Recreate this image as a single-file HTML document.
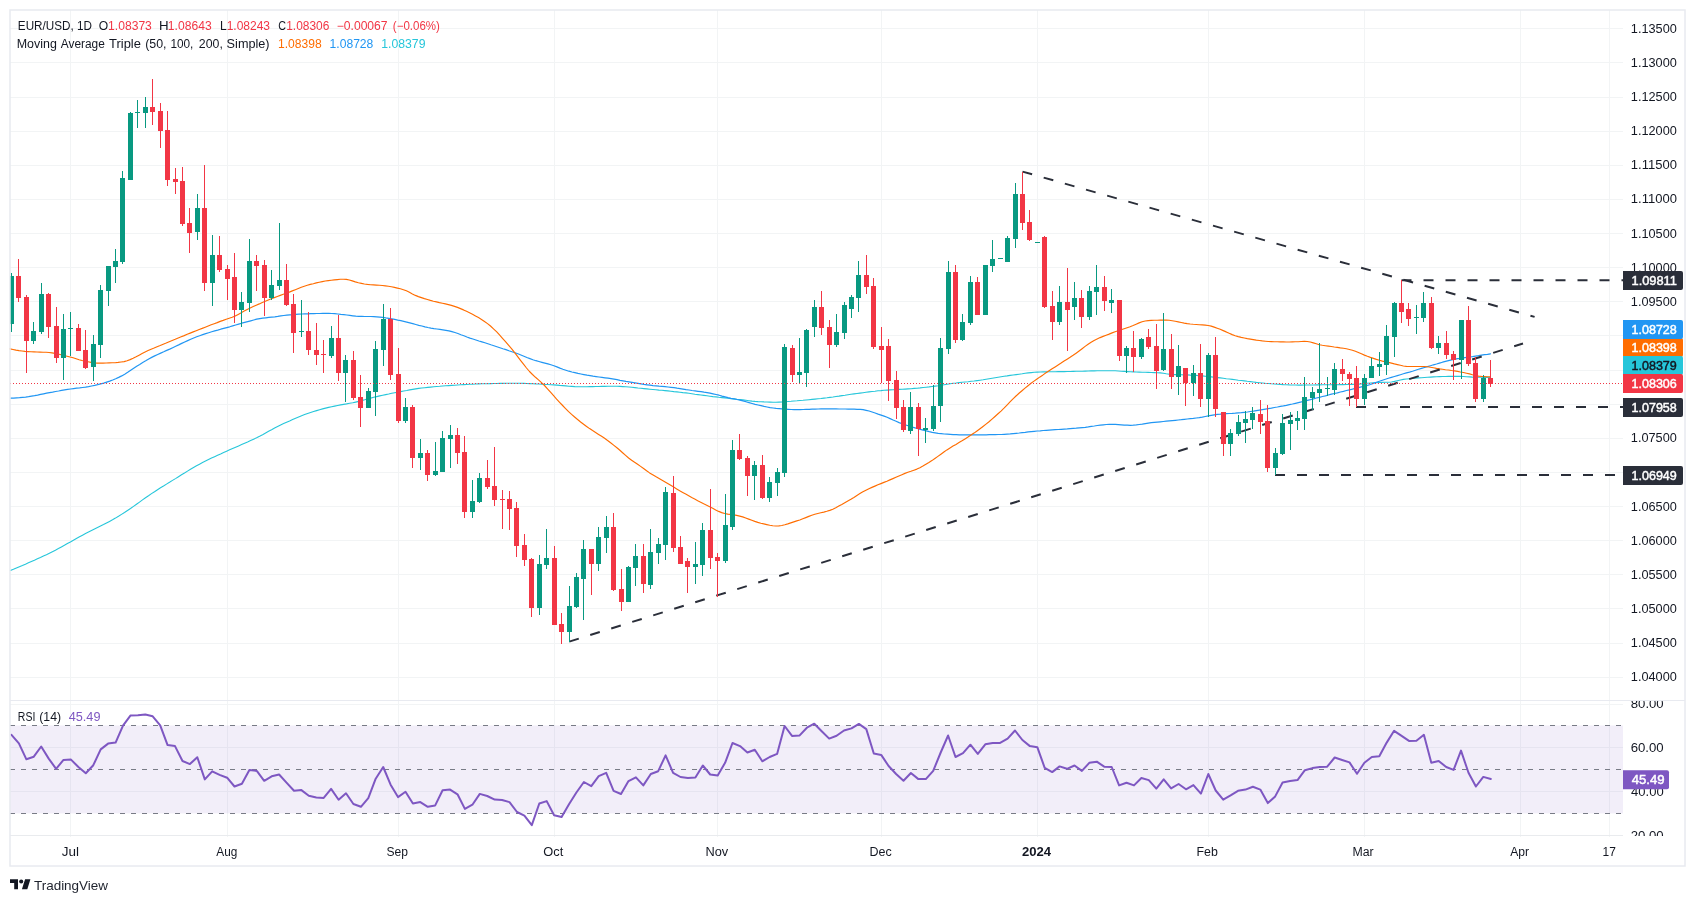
<!DOCTYPE html>
<html><head><meta charset="utf-8"><title>EUR/USD chart</title>
<style>html,body{margin:0;padding:0;background:#fff;}body{width:1695px;height:903px;overflow:hidden;font-family:"Liberation Sans",sans-serif;}</style>
</head><body>
<svg width="1695" height="903" viewBox="0 0 1695 903" style="display:block;will-change:transform;transform:translateZ(0)">
<rect width="1695" height="903" fill="#fff"/>
<path d="M70.5 10V837M227.5 10V837M398.5 10V837M554.5 10V837M717.5 10V837M881.5 10V837M1037.5 10V837M1208.5 10V837M1364.5 10V837M1520.5 10V837M1609.5 10V837M10 28.5H1623M10 62.5H1623M10 97.5H1623M10 131.5H1623M10 165.5H1623M10 199.5H1623M10 233.5H1623M10 267.5H1623M10 301.5H1623M10 335.5H1623M10 370.5H1623M10 404.5H1623M10 438.5H1623M10 472.5H1623M10 506.5H1623M10 540.5H1623M10 574.5H1623M10 608.5H1623M10 643.5H1623M10 677.5H1623M10 704.5H1623M10 747.5H1623M10 791.5H1623" stroke="#f2f4f5" stroke-width="1" fill="none" shape-rendering="crispEdges"/>
<rect x="10" y="725.5" width="1613" height="87.9" fill="#7e57c2" fill-opacity="0.1"/>
<path d="M10 725.5H1623" stroke="#787b86" stroke-width="1" stroke-dasharray="5 6" fill="none" shape-rendering="crispEdges"/>
<path d="M10 769.5H1623" stroke="#787b86" stroke-width="1" stroke-dasharray="5 6" fill="none" shape-rendering="crispEdges"/>
<path d="M10 813.5H1623" stroke="#787b86" stroke-width="1" stroke-dasharray="5 6" fill="none" shape-rendering="crispEdges"/>
<path d="M10.4 570.5 L13.4 569.3 L16.4 568.0 L19.4 566.7 L22.4 565.5 L25.4 564.2 L28.4 562.8 L31.4 561.5 L34.4 560.2 L37.4 558.8 L40.4 557.5 L43.4 556.1 L46.4 554.7 L49.4 553.2 L52.4 551.7 L55.4 550.2 L58.4 548.6 L61.4 546.9 L64.4 545.3 L67.4 543.5 L70.4 541.9 L73.4 540.2 L76.4 538.5 L79.5 536.8 L82.5 535.2 L85.5 533.6 L88.5 532.1 L91.5 530.6 L94.5 529.1 L97.5 527.6 L100.5 526.1 L103.5 524.6 L106.5 523.0 L109.5 521.4 L112.5 519.8 L115.5 518.1 L118.5 516.3 L121.5 514.4 L124.5 512.5 L127.5 510.5 L130.5 508.5 L133.5 506.4 L136.5 504.3 L139.5 502.1 L142.5 499.9 L145.5 497.7 L148.5 495.7 L151.5 493.6 L154.5 491.7 L157.5 489.7 L160.5 487.8 L163.5 486.0 L166.5 484.1 L169.5 482.3 L172.5 480.4 L175.5 478.6 L178.5 476.7 L181.5 474.8 L184.5 473.0 L187.5 471.1 L190.5 469.3 L193.5 467.5 L196.5 465.8 L199.5 464.2 L202.5 462.6 L205.5 461.1 L208.5 459.6 L211.5 458.1 L214.6 456.7 L217.6 455.3 L220.6 454.0 L223.6 452.6 L226.6 451.2 L229.6 449.8 L232.6 448.5 L235.6 447.2 L238.6 445.9 L241.6 444.6 L244.6 443.3 L247.6 442.0 L250.6 440.6 L253.6 439.2 L256.6 437.8 L259.6 436.3 L262.6 434.7 L265.6 433.0 L268.6 431.3 L271.6 429.7 L274.6 428.0 L277.6 426.5 L280.6 425.0 L283.6 423.6 L286.6 422.2 L289.6 420.9 L292.6 419.5 L295.6 418.2 L298.6 417.0 L301.6 415.8 L304.6 414.6 L307.6 413.5 L310.6 412.5 L313.6 411.5 L316.6 410.6 L319.6 409.7 L322.6 408.9 L325.6 408.1 L328.6 407.4 L331.6 406.7 L334.6 406.1 L337.6 405.5 L340.6 404.9 L343.6 404.4 L346.6 403.9 L349.7 403.3 L352.7 402.8 L355.7 402.1 L358.7 401.4 L361.7 400.6 L364.7 399.8 L367.7 398.9 L370.7 398.1 L373.7 397.3 L376.7 396.6 L379.7 395.9 L382.7 395.2 L385.7 394.6 L388.7 394.0 L391.7 393.3 L394.7 392.7 L397.7 392.1 L400.7 391.6 L403.7 391.0 L406.7 390.5 L409.7 389.9 L412.7 389.4 L415.7 388.9 L418.7 388.4 L421.7 388.0 L424.7 387.7 L427.7 387.4 L430.7 387.1 L433.7 386.8 L436.7 386.5 L439.7 386.3 L442.7 386.0 L445.7 385.8 L448.7 385.6 L451.7 385.4 L454.7 385.2 L457.7 385.0 L460.7 384.8 L463.7 384.6 L466.7 384.5 L469.7 384.3 L472.7 384.2 L475.7 384.0 L478.7 383.9 L481.8 383.8 L484.8 383.7 L487.8 383.7 L490.8 383.6 L493.8 383.5 L496.8 383.5 L499.8 383.4 L502.8 383.4 L505.8 383.3 L508.8 383.3 L511.8 383.3 L514.8 383.3 L517.8 383.3 L520.8 383.3 L523.8 383.4 L526.8 383.5 L529.8 383.6 L532.8 383.7 L535.8 383.9 L538.8 384.0 L541.8 384.2 L544.8 384.4 L547.8 384.5 L550.8 384.7 L553.8 384.9 L556.8 385.1 L559.8 385.4 L562.8 385.6 L565.8 385.9 L568.8 386.2 L571.8 386.4 L574.8 386.6 L577.8 386.7 L580.8 386.7 L583.8 386.7 L586.8 386.7 L589.8 386.6 L592.8 386.6 L595.8 386.5 L598.8 386.5 L601.8 386.4 L604.8 386.4 L607.8 386.3 L610.8 386.3 L613.8 386.3 L616.9 386.3 L619.9 386.4 L622.9 386.6 L625.9 386.8 L628.9 387.0 L631.9 387.3 L634.9 387.6 L637.9 388.0 L640.9 388.3 L643.9 388.6 L646.9 388.9 L649.9 389.2 L652.9 389.5 L655.9 389.8 L658.9 390.1 L661.9 390.3 L664.9 390.6 L667.9 390.9 L670.9 391.2 L673.9 391.6 L676.9 391.9 L679.9 392.2 L682.9 392.6 L685.9 392.9 L688.9 393.3 L691.9 393.7 L694.9 394.2 L697.9 394.6 L700.9 395.0 L703.9 395.4 L706.9 395.8 L709.9 396.2 L712.9 396.6 L715.9 396.9 L718.9 397.3 L721.9 397.6 L724.9 397.9 L727.9 398.3 L730.9 398.6 L733.9 398.9 L736.9 399.3 L739.9 399.6 L742.9 399.9 L745.9 400.3 L748.9 400.7 L752.0 401.1 L755.0 401.4 L758.0 401.6 L761.0 401.7 L764.0 401.9 L767.0 402.0 L770.0 402.1 L773.0 402.2 L776.0 402.2 L779.0 402.1 L782.0 402.0 L785.0 401.8 L788.0 401.5 L791.0 401.3 L794.0 401.0 L797.0 400.8 L800.0 400.5 L803.0 400.3 L806.0 400.0 L809.0 399.7 L812.0 399.4 L815.0 399.1 L818.0 398.8 L821.0 398.5 L824.0 398.1 L827.0 397.8 L830.0 397.4 L833.0 397.0 L836.0 396.5 L839.0 396.1 L842.0 395.6 L845.0 395.2 L848.0 394.7 L851.0 394.3 L854.0 393.9 L857.0 393.5 L860.0 393.1 L863.0 392.7 L866.0 392.3 L869.0 391.9 L872.0 391.5 L875.0 391.2 L878.0 390.8 L881.0 390.6 L884.0 390.3 L887.1 390.1 L890.1 389.9 L893.1 389.8 L896.1 389.6 L899.1 389.4 L902.1 389.3 L905.1 389.1 L908.1 388.9 L911.1 388.7 L914.1 388.4 L917.1 388.2 L920.1 387.9 L923.1 387.5 L926.1 387.2 L929.1 386.9 L932.1 386.5 L935.1 386.1 L938.1 385.7 L941.1 385.2 L944.1 384.7 L947.1 384.2 L950.1 383.7 L953.1 383.3 L956.1 383.0 L959.1 382.6 L962.1 382.3 L965.1 382.0 L968.1 381.7 L971.1 381.3 L974.1 381.0 L977.1 380.6 L980.1 380.2 L983.1 379.8 L986.1 379.3 L989.1 378.8 L992.1 378.3 L995.1 377.8 L998.1 377.3 L1001.1 376.8 L1004.1 376.3 L1007.1 375.9 L1010.1 375.4 L1013.1 375.0 L1016.1 374.6 L1019.1 374.2 L1022.2 373.8 L1025.2 373.3 L1028.2 372.9 L1031.2 372.6 L1034.2 372.3 L1037.2 372.1 L1040.2 372.0 L1043.2 371.9 L1046.2 371.9 L1049.2 371.8 L1052.2 371.7 L1055.2 371.7 L1058.2 371.6 L1061.2 371.6 L1064.2 371.6 L1067.2 371.5 L1070.2 371.5 L1073.2 371.4 L1076.2 371.3 L1079.2 371.3 L1082.2 371.2 L1085.2 371.1 L1088.2 371.0 L1091.2 370.9 L1094.2 370.9 L1097.2 370.8 L1100.2 370.7 L1103.2 370.7 L1106.2 370.7 L1109.2 370.7 L1112.2 370.7 L1115.2 370.8 L1118.2 371.0 L1121.2 371.2 L1124.2 371.4 L1127.2 371.6 L1130.2 371.8 L1133.2 371.9 L1136.2 372.0 L1139.2 372.1 L1142.2 372.2 L1145.2 372.3 L1148.2 372.4 L1151.2 372.5 L1154.3 372.6 L1157.3 372.7 L1160.3 372.9 L1163.3 373.3 L1166.3 373.8 L1169.3 374.2 L1172.3 374.5 L1175.3 374.6 L1178.3 374.7 L1181.3 374.8 L1184.3 374.9 L1187.3 374.9 L1190.3 375.1 L1193.3 375.2 L1196.3 375.4 L1199.3 375.7 L1202.3 375.9 L1205.3 376.2 L1208.3 376.6 L1211.3 376.9 L1214.3 377.3 L1217.3 377.6 L1220.3 377.9 L1223.3 378.3 L1226.3 378.7 L1229.3 379.0 L1232.3 379.4 L1235.3 379.8 L1238.3 380.2 L1241.3 380.5 L1244.3 380.9 L1247.3 381.3 L1250.3 381.6 L1253.3 382.0 L1256.3 382.4 L1259.3 382.7 L1262.3 383.0 L1265.3 383.3 L1268.3 383.5 L1271.3 383.8 L1274.3 384.0 L1277.3 384.2 L1280.3 384.4 L1283.3 384.6 L1286.3 384.7 L1289.4 384.9 L1292.4 385.0 L1295.4 385.0 L1298.4 385.1 L1301.4 385.1 L1304.4 385.0 L1307.4 385.0 L1310.4 385.0 L1313.4 385.0 L1316.4 384.9 L1319.4 384.9 L1322.4 384.8 L1325.4 384.8 L1328.4 384.8 L1331.4 384.7 L1334.4 384.7 L1337.4 384.7 L1340.4 384.6 L1343.4 384.6 L1346.4 384.5 L1349.4 384.5 L1352.4 384.4 L1355.4 384.3 L1358.4 384.1 L1361.4 383.9 L1364.4 383.6 L1367.4 383.3 L1370.4 383.0 L1373.4 382.8 L1376.4 382.6 L1379.4 382.5 L1382.4 382.4 L1385.4 382.3 L1388.4 382.2 L1391.4 382.0 L1394.4 381.4 L1397.4 380.7 L1400.4 380.0 L1403.4 379.4 L1406.4 379.0 L1409.4 378.7 L1412.4 378.4 L1415.4 378.1 L1418.4 377.9 L1421.4 377.7 L1424.5 377.5 L1427.5 377.3 L1430.5 377.1 L1433.5 376.9 L1436.5 376.7 L1439.5 376.6 L1442.5 376.5 L1445.5 376.5 L1448.5 376.4 L1451.5 376.4 L1454.5 376.4 L1457.5 376.4 L1460.5 376.4 L1463.5 376.5 L1466.5 376.7 L1469.5 376.9 L1472.5 377.1 L1475.5 377.2 L1478.5 377.3 L1481.5 377.3 L1484.5 377.4 L1487.5 377.4 L1490.5 377.4" stroke="#26c6da" stroke-width="1.1" fill="none" stroke-linejoin="round" stroke-linecap="round"/>
<path d="M10.6 398.2 L13.6 398.1 L16.6 397.9 L19.6 397.7 L22.6 397.4 L25.6 397.1 L28.6 396.7 L31.6 396.2 L34.6 395.7 L37.6 395.1 L40.6 394.4 L43.6 393.8 L46.6 393.2 L49.6 392.6 L52.6 392.1 L55.6 391.5 L58.6 391.0 L61.6 390.4 L64.6 389.9 L67.6 389.4 L70.6 389.0 L73.6 388.6 L76.6 388.2 L79.6 387.9 L82.6 387.5 L85.6 387.1 L88.6 386.6 L91.6 386.0 L94.7 385.4 L97.7 384.7 L100.7 383.9 L103.7 383.1 L106.7 382.1 L109.7 381.1 L112.7 380.0 L115.7 378.8 L118.7 377.4 L121.7 375.9 L124.7 374.2 L127.7 372.3 L130.7 370.2 L133.7 368.2 L136.7 366.2 L139.7 364.4 L142.7 362.5 L145.7 360.8 L148.7 359.0 L151.7 357.4 L154.7 355.9 L157.7 354.5 L160.7 353.1 L163.7 351.8 L166.7 350.4 L169.7 349.1 L172.7 347.7 L175.7 346.3 L178.7 344.9 L181.7 343.4 L184.7 342.0 L187.7 340.6 L190.7 339.3 L193.7 338.0 L196.7 336.8 L199.7 335.7 L202.7 334.6 L205.7 333.6 L208.7 332.7 L211.7 331.8 L214.7 330.9 L217.7 330.1 L220.7 329.2 L223.7 328.4 L226.7 327.6 L229.7 326.8 L232.7 325.9 L235.7 325.0 L238.7 324.1 L241.7 323.2 L244.7 322.4 L247.7 321.6 L250.7 320.8 L253.7 320.0 L256.7 319.2 L259.8 318.6 L262.8 318.2 L265.8 317.8 L268.8 317.4 L271.8 317.1 L274.8 316.8 L277.8 316.4 L280.8 315.9 L283.8 315.5 L286.8 315.1 L289.8 314.8 L292.8 314.6 L295.8 314.3 L298.8 314.1 L301.8 314.0 L304.8 313.9 L307.8 313.8 L310.8 313.7 L313.8 313.6 L316.8 313.5 L319.8 313.5 L322.8 313.4 L325.8 313.4 L328.8 313.4 L331.8 313.5 L334.8 313.7 L337.8 314.0 L340.8 314.4 L343.8 314.7 L346.8 315.0 L349.8 315.4 L352.8 315.8 L355.8 316.2 L358.8 316.4 L361.8 316.4 L364.8 316.5 L367.8 316.5 L370.8 316.5 L373.8 316.6 L376.8 316.8 L379.8 317.1 L382.8 317.4 L385.8 317.9 L388.8 318.3 L391.8 318.8 L394.8 319.4 L397.8 320.1 L400.8 320.7 L403.8 321.4 L406.8 322.1 L409.8 322.9 L412.8 323.7 L415.8 324.5 L418.8 325.3 L421.9 326.0 L424.9 326.8 L427.9 327.5 L430.9 328.1 L433.9 328.6 L436.9 329.0 L439.9 329.4 L442.9 329.8 L445.9 330.3 L448.9 330.9 L451.9 331.6 L454.9 332.5 L457.9 333.5 L460.9 334.7 L463.9 335.8 L466.9 337.0 L469.9 338.1 L472.9 339.0 L475.9 340.0 L478.9 341.0 L481.9 341.9 L484.9 342.8 L487.9 343.8 L490.9 344.8 L493.9 345.7 L496.9 346.7 L499.9 347.7 L502.9 348.7 L505.9 349.6 L508.9 350.7 L511.9 351.7 L514.9 352.7 L517.9 353.8 L520.9 355.0 L523.9 356.2 L526.9 357.5 L529.9 358.6 L532.9 359.7 L535.9 360.7 L538.9 361.5 L541.9 362.3 L544.9 363.1 L547.9 363.9 L550.9 364.8 L553.9 365.8 L556.9 366.9 L559.9 368.1 L562.9 369.2 L565.9 370.2 L568.9 371.2 L571.9 372.0 L574.9 372.7 L577.9 373.4 L580.9 374.0 L583.9 374.6 L587.0 375.2 L590.0 375.7 L593.0 376.2 L596.0 376.6 L599.0 377.0 L602.0 377.4 L605.0 377.8 L608.0 378.2 L611.0 378.7 L614.0 379.2 L617.0 379.7 L620.0 380.3 L623.0 380.8 L626.0 381.4 L629.0 381.9 L632.0 382.4 L635.0 382.9 L638.0 383.4 L641.0 383.9 L644.0 384.4 L647.0 384.8 L650.0 385.2 L653.0 385.6 L656.0 385.9 L659.0 386.2 L662.0 386.4 L665.0 386.7 L668.0 387.0 L671.0 387.3 L674.0 387.7 L677.0 388.2 L680.0 388.6 L683.0 389.1 L686.0 389.6 L689.0 390.0 L692.0 390.5 L695.0 390.9 L698.0 391.3 L701.0 391.7 L704.0 392.2 L707.0 392.6 L710.0 393.2 L713.0 393.8 L716.0 394.5 L719.0 395.2 L722.0 396.1 L725.0 396.9 L728.0 397.7 L731.0 398.4 L734.0 398.9 L737.0 399.5 L740.0 400.1 L743.0 400.9 L746.0 401.7 L749.0 402.6 L752.1 403.5 L755.1 404.3 L758.1 405.0 L761.1 405.7 L764.1 406.4 L767.1 407.0 L770.1 407.6 L773.1 408.0 L776.1 408.4 L779.1 408.6 L782.1 408.9 L785.1 409.1 L788.1 409.3 L791.1 409.5 L794.1 409.6 L797.1 409.6 L800.1 409.6 L803.1 409.5 L806.1 409.4 L809.1 409.3 L812.1 409.2 L815.1 409.1 L818.1 409.0 L821.1 408.9 L824.1 408.9 L827.1 408.9 L830.1 408.9 L833.1 408.9 L836.1 408.9 L839.1 409.0 L842.1 409.0 L845.1 409.0 L848.1 409.1 L851.1 409.1 L854.1 409.2 L857.1 409.3 L860.1 409.3 L863.1 409.7 L866.1 410.3 L869.1 411.0 L872.1 412.0 L875.1 413.0 L878.1 414.1 L881.1 415.1 L884.1 416.1 L887.1 417.3 L890.1 418.6 L893.1 420.0 L896.1 421.3 L899.1 422.6 L902.1 423.7 L905.1 424.7 L908.1 425.8 L911.1 426.7 L914.1 427.6 L917.2 428.5 L920.2 429.3 L923.2 430.1 L926.2 430.9 L929.2 431.7 L932.2 432.4 L935.2 432.9 L938.2 433.4 L941.2 433.7 L944.2 434.0 L947.2 434.2 L950.2 434.4 L953.2 434.6 L956.2 434.7 L959.2 434.8 L962.2 434.8 L965.2 434.8 L968.2 434.8 L971.2 434.8 L974.2 434.8 L977.2 434.8 L980.2 434.8 L983.2 434.8 L986.2 434.8 L989.2 434.7 L992.2 434.7 L995.2 434.6 L998.2 434.5 L1001.2 434.5 L1004.2 434.3 L1007.2 434.1 L1010.2 433.9 L1013.2 433.6 L1016.2 433.3 L1019.2 433.0 L1022.2 432.6 L1025.2 432.3 L1028.2 431.9 L1031.2 431.6 L1034.2 431.3 L1037.2 431.0 L1040.2 430.8 L1043.2 430.5 L1046.2 430.3 L1049.2 430.1 L1052.2 429.9 L1055.2 429.7 L1058.2 429.5 L1061.2 429.3 L1064.2 429.1 L1067.2 428.9 L1070.2 428.6 L1073.2 428.4 L1076.2 428.2 L1079.2 427.9 L1082.3 427.6 L1085.3 427.3 L1088.3 426.9 L1091.3 426.4 L1094.3 426.0 L1097.3 425.5 L1100.3 425.1 L1103.3 424.8 L1106.3 424.5 L1109.3 424.3 L1112.3 424.3 L1115.3 424.4 L1118.3 424.6 L1121.3 424.8 L1124.3 425.1 L1127.3 425.2 L1130.3 425.3 L1133.3 425.2 L1136.3 424.9 L1139.3 424.5 L1142.3 424.1 L1145.3 423.6 L1148.3 423.1 L1151.3 422.7 L1154.3 422.4 L1157.3 422.1 L1160.3 421.8 L1163.3 421.5 L1166.3 421.2 L1169.3 420.9 L1172.3 420.6 L1175.3 420.3 L1178.3 420.0 L1181.3 419.7 L1184.3 419.3 L1187.3 419.0 L1190.3 418.7 L1193.3 418.4 L1196.3 418.0 L1199.3 417.6 L1202.3 417.1 L1205.3 416.5 L1208.3 415.9 L1211.3 415.3 L1214.3 414.8 L1217.3 414.4 L1220.3 414.2 L1223.3 413.9 L1226.3 413.7 L1229.3 413.5 L1232.3 413.4 L1235.3 413.2 L1238.3 412.9 L1241.3 412.7 L1244.4 412.3 L1247.4 412.0 L1250.4 411.5 L1253.4 411.1 L1256.4 410.6 L1259.4 410.1 L1262.4 409.6 L1265.4 409.1 L1268.4 408.6 L1271.4 408.1 L1274.4 407.5 L1277.4 407.0 L1280.4 406.4 L1283.4 405.9 L1286.4 405.3 L1289.4 404.6 L1292.4 404.0 L1295.4 403.3 L1298.4 402.6 L1301.4 401.9 L1304.4 401.1 L1307.4 400.3 L1310.4 399.6 L1313.4 398.8 L1316.4 398.0 L1319.4 397.3 L1322.4 396.5 L1325.4 395.8 L1328.4 395.0 L1331.4 394.2 L1334.4 393.5 L1337.4 392.8 L1340.4 392.0 L1343.4 391.3 L1346.4 390.5 L1349.4 389.8 L1352.4 389.1 L1355.4 388.3 L1358.4 387.6 L1361.4 386.9 L1364.4 386.2 L1367.4 385.4 L1370.4 384.5 L1373.4 383.4 L1376.4 382.3 L1379.4 381.2 L1382.4 380.2 L1385.4 379.2 L1388.4 378.3 L1391.4 377.4 L1394.4 376.5 L1397.4 375.6 L1400.4 374.7 L1403.4 373.8 L1406.4 372.9 L1409.5 372.1 L1412.5 371.2 L1415.5 370.2 L1418.5 369.3 L1421.5 368.4 L1424.5 367.5 L1427.5 366.6 L1430.5 365.7 L1433.5 364.8 L1436.5 364.0 L1439.5 363.1 L1442.5 362.2 L1445.5 361.4 L1448.5 360.6 L1451.5 359.9 L1454.5 359.3 L1457.5 358.7 L1460.5 358.3 L1463.5 357.8 L1466.5 357.4 L1469.5 357.0 L1472.5 356.6 L1475.5 356.1 L1478.5 355.7 L1481.5 355.2 L1484.5 354.7 L1487.5 354.3 L1490.5 353.8" stroke="#2196f3" stroke-width="1.2" fill="none" stroke-linejoin="round" stroke-linecap="round"/>
<path d="M10.0 348.9 L13.0 349.5 L16.0 350.1 L19.0 350.6 L22.0 351.0 L25.0 351.4 L28.0 351.6 L31.0 351.8 L34.0 351.9 L37.0 352.0 L40.0 352.1 L43.0 352.2 L46.0 352.3 L49.0 352.5 L52.0 352.9 L55.0 353.4 L58.0 354.0 L61.1 354.7 L64.1 355.5 L67.1 356.2 L70.1 357.0 L73.1 357.8 L76.1 358.7 L79.1 359.7 L82.1 360.5 L85.1 361.2 L88.1 361.8 L91.1 362.4 L94.1 362.9 L97.1 363.1 L100.1 363.1 L103.1 363.1 L106.1 363.0 L109.1 362.9 L112.1 362.8 L115.1 362.7 L118.1 362.4 L121.1 362.0 L124.1 361.6 L127.1 360.7 L130.1 359.6 L133.1 358.3 L136.1 356.8 L139.1 355.2 L142.1 353.6 L145.1 352.0 L148.1 350.6 L151.1 349.2 L154.1 348.0 L157.1 346.7 L160.2 345.5 L163.2 344.2 L166.2 343.0 L169.2 341.7 L172.2 340.5 L175.2 339.3 L178.2 338.0 L181.2 336.8 L184.2 335.6 L187.2 334.3 L190.2 333.1 L193.2 331.9 L196.2 330.7 L199.2 329.5 L202.2 328.4 L205.2 327.2 L208.2 326.0 L211.2 324.8 L214.2 323.7 L217.2 322.6 L220.2 321.4 L223.2 320.4 L226.2 319.3 L229.2 318.3 L232.2 317.3 L235.2 316.0 L238.2 314.4 L241.2 312.8 L244.2 311.1 L247.2 309.5 L250.2 308.0 L253.2 306.6 L256.2 305.2 L259.3 303.9 L262.3 302.5 L265.3 301.3 L268.3 300.0 L271.3 298.8 L274.3 297.6 L277.3 296.5 L280.3 295.4 L283.3 294.3 L286.3 293.2 L289.3 292.1 L292.3 290.9 L295.3 289.7 L298.3 288.5 L301.3 287.3 L304.3 286.2 L307.3 285.3 L310.3 284.4 L313.3 283.7 L316.3 282.9 L319.3 282.2 L322.3 281.6 L325.3 281.0 L328.3 280.6 L331.3 280.2 L334.3 279.9 L337.3 279.6 L340.3 279.3 L343.3 279.2 L346.3 279.4 L349.3 280.0 L352.3 280.9 L355.3 281.9 L358.4 282.8 L361.4 283.4 L364.4 284.0 L367.4 284.4 L370.4 284.7 L373.4 284.9 L376.4 285.1 L379.4 285.3 L382.4 285.5 L385.4 285.9 L388.4 286.3 L391.4 286.8 L394.4 287.4 L397.4 288.1 L400.4 288.8 L403.4 289.7 L406.4 290.8 L409.4 292.3 L412.4 294.0 L415.4 295.4 L418.4 296.6 L421.4 297.6 L424.4 298.6 L427.4 299.5 L430.4 300.4 L433.4 301.2 L436.4 301.9 L439.4 302.6 L442.4 303.2 L445.4 303.9 L448.4 304.6 L451.4 305.4 L454.5 306.4 L457.5 307.4 L460.5 308.6 L463.5 309.9 L466.5 311.3 L469.5 312.7 L472.5 314.3 L475.5 315.9 L478.5 317.6 L481.5 319.5 L484.5 321.5 L487.5 323.6 L490.5 326.0 L493.5 328.8 L496.5 331.7 L499.5 334.9 L502.5 338.3 L505.5 341.7 L508.5 345.2 L511.5 348.6 L514.5 352.3 L517.5 356.3 L520.5 360.3 L523.5 364.2 L526.5 368.0 L529.5 371.5 L532.5 374.5 L535.5 377.3 L538.5 379.9 L541.5 382.6 L544.5 385.5 L547.5 388.8 L550.5 392.2 L553.6 395.7 L556.6 399.1 L559.6 402.3 L562.6 405.5 L565.6 408.6 L568.6 411.6 L571.6 414.4 L574.6 417.0 L577.6 419.5 L580.6 422.0 L583.6 424.3 L586.6 426.5 L589.6 428.6 L592.6 430.6 L595.6 432.5 L598.6 434.4 L601.6 436.3 L604.6 438.3 L607.6 440.5 L610.6 442.7 L613.6 445.1 L616.6 447.5 L619.6 450.0 L622.6 452.7 L625.6 455.4 L628.6 458.0 L631.6 460.2 L634.6 462.3 L637.6 464.3 L640.6 466.4 L643.6 468.5 L646.6 470.8 L649.6 472.9 L652.7 474.8 L655.7 476.6 L658.7 478.3 L661.7 480.0 L664.7 481.7 L667.7 483.5 L670.7 485.3 L673.7 487.1 L676.7 488.9 L679.7 490.7 L682.7 492.4 L685.7 494.1 L688.7 495.8 L691.7 497.5 L694.7 499.1 L697.7 500.7 L700.7 502.2 L703.7 503.8 L706.7 505.3 L709.7 506.8 L712.7 508.3 L715.7 509.9 L718.7 511.4 L721.7 512.6 L724.7 513.5 L727.7 514.1 L730.7 514.5 L733.7 514.9 L736.7 515.4 L739.7 516.1 L742.7 516.9 L745.7 518.0 L748.7 519.1 L751.8 520.3 L754.8 521.4 L757.8 522.4 L760.8 523.2 L763.8 523.9 L766.8 524.6 L769.8 525.3 L772.8 525.8 L775.8 526.0 L778.8 525.9 L781.8 525.5 L784.8 524.8 L787.8 523.9 L790.8 522.9 L793.8 521.9 L796.8 520.9 L799.8 520.0 L802.8 518.8 L805.8 517.6 L808.8 516.4 L811.8 515.3 L814.8 514.3 L817.8 513.5 L820.8 512.8 L823.8 512.1 L826.8 511.3 L829.8 510.4 L832.8 509.2 L835.8 507.7 L838.8 506.1 L841.8 504.5 L844.8 502.8 L847.8 501.1 L850.9 499.3 L853.9 497.4 L856.9 495.4 L859.9 493.6 L862.9 491.8 L865.9 490.2 L868.9 488.7 L871.9 487.4 L874.9 486.1 L877.9 484.8 L880.9 483.6 L883.9 482.4 L886.9 481.2 L889.9 479.9 L892.9 478.6 L895.9 477.3 L898.9 476.0 L901.9 474.7 L904.9 473.4 L907.9 472.3 L910.9 471.3 L913.9 470.2 L916.9 469.1 L919.9 467.7 L922.9 466.1 L925.9 464.3 L928.9 462.5 L931.9 460.6 L934.9 458.5 L937.9 456.4 L940.9 454.2 L943.9 452.0 L946.9 449.9 L950.0 447.9 L953.0 446.1 L956.0 444.4 L959.0 442.6 L962.0 440.8 L965.0 438.9 L968.0 437.1 L971.0 435.1 L974.0 433.1 L977.0 431.0 L980.0 428.8 L983.0 426.5 L986.0 424.1 L989.0 421.7 L992.0 419.1 L995.0 416.5 L998.0 413.8 L1001.0 411.1 L1004.0 408.2 L1007.0 405.1 L1010.0 401.9 L1013.0 398.8 L1016.0 396.0 L1019.0 393.3 L1022.0 390.7 L1025.0 388.1 L1028.0 385.7 L1031.0 383.3 L1034.0 381.1 L1037.0 379.0 L1040.0 376.9 L1043.0 374.9 L1046.0 372.8 L1049.1 370.8 L1052.1 368.8 L1055.1 366.9 L1058.1 365.0 L1061.1 363.1 L1064.1 361.1 L1067.1 359.2 L1070.1 357.3 L1073.1 355.3 L1076.1 353.2 L1079.1 351.0 L1082.1 348.7 L1085.1 346.4 L1088.1 344.3 L1091.1 342.3 L1094.1 340.5 L1097.1 339.0 L1100.1 337.6 L1103.1 336.4 L1106.1 335.2 L1109.1 334.1 L1112.1 332.9 L1115.1 331.8 L1118.1 330.8 L1121.1 329.7 L1124.1 328.7 L1127.1 327.7 L1130.1 326.7 L1133.1 325.5 L1136.1 324.2 L1139.1 322.9 L1142.1 321.8 L1145.2 321.0 L1148.2 320.6 L1151.2 320.4 L1154.2 320.3 L1157.2 320.2 L1160.2 320.1 L1163.2 320.1 L1166.2 320.0 L1169.2 320.3 L1172.2 320.7 L1175.2 321.3 L1178.2 321.9 L1181.2 322.5 L1184.2 323.1 L1187.2 323.6 L1190.2 324.0 L1193.2 324.3 L1196.2 324.5 L1199.2 324.7 L1202.2 324.9 L1205.2 325.1 L1208.2 325.5 L1211.2 326.1 L1214.2 327.1 L1217.2 328.2 L1220.2 329.3 L1223.2 330.6 L1226.2 331.9 L1229.2 333.3 L1232.2 334.6 L1235.2 335.7 L1238.2 336.6 L1241.2 337.4 L1244.3 338.0 L1247.3 338.6 L1250.3 339.1 L1253.3 339.6 L1256.3 340.1 L1259.3 340.5 L1262.3 340.9 L1265.3 341.2 L1268.3 341.5 L1271.3 341.6 L1274.3 341.7 L1277.3 341.8 L1280.3 341.9 L1283.3 341.9 L1286.3 342.0 L1289.3 342.0 L1292.3 341.9 L1295.3 341.8 L1298.3 341.7 L1301.3 341.5 L1304.3 341.4 L1307.3 341.5 L1310.3 342.0 L1313.3 342.9 L1316.3 343.8 L1319.3 344.7 L1322.3 345.3 L1325.3 345.7 L1328.3 346.1 L1331.3 346.5 L1334.3 347.0 L1337.3 347.4 L1340.3 347.9 L1343.4 348.3 L1346.4 348.8 L1349.4 349.5 L1352.4 350.2 L1355.4 351.3 L1358.4 352.5 L1361.4 353.8 L1364.4 355.1 L1367.4 356.3 L1370.4 357.4 L1373.4 358.4 L1376.4 359.4 L1379.4 360.3 L1382.4 361.1 L1385.4 361.8 L1388.4 362.4 L1391.4 363.1 L1394.4 363.9 L1397.4 364.6 L1400.4 365.3 L1403.4 366.0 L1406.4 366.4 L1409.4 366.5 L1412.4 366.5 L1415.4 366.5 L1418.4 366.5 L1421.4 366.5 L1424.4 366.5 L1427.4 366.7 L1430.4 367.2 L1433.4 367.8 L1436.4 368.4 L1439.4 368.9 L1442.5 369.3 L1445.5 369.7 L1448.5 370.0 L1451.5 370.5 L1454.5 370.9 L1457.5 371.4 L1460.5 372.0 L1463.5 372.5 L1466.5 373.2 L1469.5 373.9 L1472.5 374.8 L1475.5 375.6 L1478.5 376.1 L1481.5 376.4 L1484.5 376.6 L1487.5 376.8 L1490.5 376.9" stroke="#ff6d00" stroke-width="1.15" fill="none" stroke-linejoin="round" stroke-linecap="round"/>
<path d="M569.23 641.6L1523 343.55" stroke="#2a2e39" stroke-width="2" stroke-dasharray="10 12" fill="none"/>
<path d="M1022.5 171.6L1534.6 316.9" stroke="#2a2e39" stroke-width="2" stroke-dasharray="10 12" fill="none"/>
<path d="M1401.5 280.3L1623 280.3" stroke="#2a2e39" stroke-width="2" stroke-dasharray="10 12" fill="none"/>
<path d="M1356 407L1623 407" stroke="#2a2e39" stroke-width="2" stroke-dasharray="10 12" fill="none"/>
<path d="M1275 475L1623 475" stroke="#2a2e39" stroke-width="2" stroke-dasharray="10 12" fill="none"/>
<path d="M11 273h1V332h-1ZM33 322h1V344h-1ZM41 283h1V334h-1ZM63 314h1V380h-1ZM70 312h1V356h-1ZM93 335h1V381h-1ZM100 285h1V358h-1ZM108 266h1V306h-1ZM115 249h1V283h-1ZM122 171h1V264h-1ZM130 112h1V180h-1ZM137 100h1V128h-1ZM145 97h1V128h-1ZM197 194h1V240h-1ZM212 235h1V306h-1ZM241 292h1V327h-1ZM249 239h1V312h-1ZM271 270h1V300h-1ZM279 223h1V290h-1ZM301 300h1V337h-1ZM331 326h1V358h-1ZM345 355h1V402h-1ZM368 388h1V408h-1ZM375 341h1V416h-1ZM383 304h1V366h-1ZM405 398h1V423h-1ZM420 439h1V470h-1ZM435 442h1V476h-1ZM442 431h1V472h-1ZM450 425h1V468h-1ZM472 480h1V518h-1ZM479 473h1V503h-1ZM539 555h1V615h-1ZM546 529h1V569h-1ZM569 586h1V642h-1ZM576 573h1V608h-1ZM583 540h1V620h-1ZM598 527h1V571h-1ZM606 516h1V553h-1ZM628 566h1V602h-1ZM635 544h1V586h-1ZM650 529h1V589h-1ZM658 538h1V564h-1ZM665 487h1V560h-1ZM695 542h1V584h-1ZM702 523h1V576h-1ZM725 494h1V563h-1ZM732 440h1V530h-1ZM754 461h1V500h-1ZM769 477h1V502h-1ZM777 468h1V496h-1ZM784 344h1V477h-1ZM799 338h1V383h-1ZM806 329h1V387h-1ZM814 300h1V337h-1ZM836 314h1V347h-1ZM844 302h1V339h-1ZM851 295h1V318h-1ZM858 261h1V312h-1ZM910 392h1V434h-1ZM925 418h1V443h-1ZM933 385h1V431h-1ZM940 338h1V422h-1ZM948 261h1V354h-1ZM962 314h1V341h-1ZM970 276h1V325h-1ZM985 265h1V315h-1ZM992 240h1V272h-1ZM1000 258h1V259h-1ZM1007 236h1V262h-1ZM1015 183h1V248h-1ZM1037 242h1V243h-1ZM1059 286h1V325h-1ZM1074 282h1V320h-1ZM1089 286h1V320h-1ZM1096 265h1V315h-1ZM1111 289h1V313h-1ZM1126 346h1V373h-1ZM1141 338h1V359h-1ZM1163 313h1V371h-1ZM1178 345h1V395h-1ZM1193 365h1V396h-1ZM1208 353h1V417h-1ZM1230 429h1V456h-1ZM1238 415h1V436h-1ZM1245 411h1V443h-1ZM1252 407h1V429h-1ZM1275 448h1V475h-1ZM1282 414h1V455h-1ZM1290 412h1V450h-1ZM1297 411h1V430h-1ZM1304 377h1V430h-1ZM1312 387h1V410h-1ZM1319 343h1V402h-1ZM1327 377h1V396h-1ZM1334 363h1V395h-1ZM1364 374h1V405h-1ZM1371 358h1V378h-1ZM1379 352h1V376h-1ZM1386 325h1V375h-1ZM1394 302h1V357h-1ZM1416 305h1V334h-1ZM1423 292h1V322h-1ZM1438 336h1V354h-1ZM1461 320h1V379h-1ZM1483 375h1V402h-1ZM10 276H14V324H10ZM31 331H36V341H31ZM39 294H44V332H39ZM61 329H66V358H61ZM68 328H73V329H68ZM91 344H96V367H91ZM98 290H103V345H98ZM106 266H111V291H106ZM113 261H118V267H113ZM120 178H125V262H120ZM128 113H133V180H128ZM135 112H140V113H135ZM143 107H148V113H143ZM195 208H200V232H195ZM210 255H215V283H210ZM239 302H244V310H239ZM247 261H252V303H247ZM269 285H274V298H269ZM277 280H282V286H277ZM299 331H304V332H299ZM329 338H334V356H329ZM343 360H348V373H343ZM366 391H371V408H366ZM373 349H378V392H373ZM381 319H386V350H381ZM403 407H408V421H403ZM418 453H423V458H418ZM433 471H438V475H433ZM440 438H445V472H440ZM448 435H453V439H448ZM470 501H475V512H470ZM477 478H482V502H477ZM537 564H542V608H537ZM544 558H549V565H544ZM567 606H572V632H567ZM574 577H579V607H574ZM581 549H586V579H581ZM596 537H601V564H596ZM604 527H609V538H604ZM626 567H631V602H626ZM633 556H638V568H633ZM648 552H653V585H648ZM656 544H661V553H656ZM663 492H668V545H663ZM693 564H698V567H693ZM700 530H705V565H700ZM723 525H728V561H723ZM730 450H735V527H730ZM752 465H757V476H752ZM767 482H772V498H767ZM775 472H780V483H775ZM782 347H787V473H782ZM797 372H802V375H797ZM804 330H809V373H804ZM812 307H817V327H812ZM834 332H839V345H834ZM842 305H847V333H842ZM849 297H854V309H849ZM856 275H861V298H856ZM908 407H913V431H908ZM923 428H928V430H923ZM931 406H936V429H931ZM938 348H943V406H938ZM946 272H951V349H946ZM960 322H965V340H960ZM968 282H973V323H968ZM983 265H988V315H983ZM990 259H995V266H990ZM998 258H1003V259H998ZM1005 238H1010V262H1005ZM1013 194H1018V239H1013ZM1035 242H1040V243H1035ZM1057 302H1062V322H1057ZM1072 298H1077V307H1072ZM1087 291H1092V317H1087ZM1094 287H1099V292H1094ZM1109 300H1114V303H1109ZM1124 348H1129V356H1124ZM1139 339H1144V357H1139ZM1161 349H1166V370H1161ZM1176 366H1181V377H1176ZM1191 373H1196V383H1191ZM1206 355H1211V399H1206ZM1228 433H1233V444H1228ZM1236 422H1241V434H1236ZM1243 419H1248V423H1243ZM1250 413H1255V420H1250ZM1273 453H1278V468H1273ZM1280 423H1285V454H1280ZM1288 420H1293V424H1288ZM1295 418H1300V421H1295ZM1302 397H1307V419H1302ZM1310 392H1315V398H1310ZM1317 389H1322V393H1317ZM1325 388H1330V389H1325ZM1332 369H1337V390H1332ZM1362 378H1367V399H1362ZM1369 366H1374V378H1369ZM1377 364H1382V367H1377ZM1384 336H1389V365H1384ZM1392 303H1397V337H1392ZM1414 317H1419V318H1414ZM1421 303H1426V318H1421ZM1436 343H1441V348H1436ZM1459 320H1464V360H1459ZM1481 378H1486V399H1481Z" fill="#089981" shape-rendering="crispEdges"/>
<path d="M18 259h1V302h-1ZM26 295h1V373h-1ZM48 293h1V338h-1ZM56 307h1V363h-1ZM78 324h1V351h-1ZM85 330h1V369h-1ZM152 79h1V125h-1ZM160 103h1V148h-1ZM167 111h1V186h-1ZM175 168h1V194h-1ZM182 167h1V226h-1ZM189 208h1V253h-1ZM204 165h1V291h-1ZM219 236h1V272h-1ZM227 265h1V300h-1ZM234 253h1V323h-1ZM256 255h1V291h-1ZM264 260h1V316h-1ZM286 264h1V306h-1ZM293 294h1V353h-1ZM308 312h1V355h-1ZM316 323h1V365h-1ZM323 340h1V373h-1ZM338 315h1V381h-1ZM353 351h1V400h-1ZM360 375h1V427h-1ZM390 308h1V380h-1ZM398 348h1V423h-1ZM412 405h1V468h-1ZM427 450h1V481h-1ZM457 428h1V464h-1ZM464 436h1V518h-1ZM487 460h1V489h-1ZM494 447h1V506h-1ZM502 490h1V529h-1ZM509 491h1V530h-1ZM516 502h1V557h-1ZM524 534h1V566h-1ZM531 558h1V617h-1ZM554 546h1V625h-1ZM561 613h1V644h-1ZM591 549h1V595h-1ZM613 513h1V591h-1ZM621 569h1V611h-1ZM643 544h1V593h-1ZM673 476h1V552h-1ZM680 536h1V564h-1ZM687 558h1V593h-1ZM710 489h1V569h-1ZM717 553h1V597h-1ZM739 434h1V460h-1ZM747 456h1V496h-1ZM762 455h1V499h-1ZM792 345h1V382h-1ZM821 291h1V335h-1ZM829 320h1V368h-1ZM866 255h1V294h-1ZM873 278h1V349h-1ZM881 327h1V383h-1ZM888 339h1V401h-1ZM896 371h1V419h-1ZM903 400h1V432h-1ZM918 403h1V456h-1ZM955 265h1V343h-1ZM977 277h1V315h-1ZM1022 172h1V230h-1ZM1029 210h1V241h-1ZM1044 236h1V308h-1ZM1052 291h1V340h-1ZM1067 268h1V351h-1ZM1081 290h1V328h-1ZM1104 276h1V311h-1ZM1119 300h1V361h-1ZM1133 331h1V372h-1ZM1148 329h1V349h-1ZM1156 324h1V389h-1ZM1171 334h1V389h-1ZM1185 368h1V406h-1ZM1200 344h1V407h-1ZM1215 337h1V417h-1ZM1223 412h1V456h-1ZM1260 400h1V434h-1ZM1267 405h1V472h-1ZM1342 359h1V381h-1ZM1349 372h1V406h-1ZM1356 366h1V407h-1ZM1401 280h1V323h-1ZM1408 303h1V326h-1ZM1431 297h1V349h-1ZM1446 331h1V359h-1ZM1453 351h1V380h-1ZM1468 306h1V366h-1ZM1475 357h1V402h-1ZM1490 360h1V387h-1ZM16 276H21V298H16ZM24 297H29V341H24ZM46 294H51V327H46ZM54 326H59V358H54ZM76 328H81V351H76ZM83 350H88V368H83ZM150 107H155V112H150ZM158 111H163V131H158ZM165 130H170V180H165ZM173 179H178V182H173ZM180 181H185V224H180ZM187 223H192V233H187ZM202 208H207V283H202ZM217 255H222V270H217ZM225 269H230V279H225ZM232 277H237V310H232ZM254 261H259V266H254ZM262 265H267V298H262ZM284 280H289V305H284ZM291 304H296V333H291ZM306 331H311V350H306ZM314 350H319V355H314ZM321 354H326V355H321ZM336 338H341V373H336ZM351 360H356V398H351ZM358 397H363V408H358ZM388 319H393V375H388ZM396 374H401V421H396ZM410 407H415V458H410ZM425 453H430V475H425ZM455 435H460V453H455ZM462 452H467V512H462ZM485 478H490V487H485ZM492 486H497V500H492ZM500 499H505V500H500ZM507 499H512V509H507ZM514 508H519V546H514ZM522 545H527V560H522ZM529 559H534V608H529ZM552 558H557V625H552ZM559 624H564V632H559ZM589 549H594V564H589ZM611 527H616V590H611ZM619 589H624V602H619ZM641 556H646V584H641ZM671 493H676V548H671ZM678 547H683V564H678ZM685 561H690V567H685ZM708 530H713V558H708ZM715 557H720V561H715ZM737 450H742V459H737ZM745 458H750V476H745ZM760 465H765V498H760ZM790 348H795V375H790ZM819 307H824V328H819ZM827 327H832V345H827ZM864 275H869V287H864ZM871 286H876V347H871ZM879 346H884V350H879ZM886 346H891V381H886ZM894 380H899V408H894ZM901 407H906V430H901ZM916 407H921V429H916ZM953 272H958V340H953ZM975 282H980V315H975ZM1020 194H1025V223H1020ZM1027 222H1032V240H1027ZM1042 237H1047V307H1042ZM1050 306H1055V322H1050ZM1065 302H1070V310H1065ZM1079 298H1084V317H1079ZM1102 287H1107V301H1102ZM1117 300H1122V356H1117ZM1131 348H1136V357H1131ZM1146 337H1151V347H1146ZM1154 346H1159V371H1154ZM1169 349H1174V377H1169ZM1183 368H1188V383H1183ZM1198 373H1203V399H1198ZM1213 355H1218V409H1213ZM1221 412H1226V444H1221ZM1258 414H1263V422H1258ZM1265 421H1270V468H1265ZM1340 369H1345V374H1340ZM1347 374H1352V379H1347ZM1354 378H1359V399H1354ZM1399 303H1404V312H1399ZM1406 309H1411V319H1406ZM1429 303H1434V348H1429ZM1444 343H1449V355H1444ZM1451 354H1456V360H1451ZM1466 320H1471V364H1466ZM1473 363H1478V399H1473ZM1488 378H1493V384H1488Z" fill="#f23645" shape-rendering="crispEdges"/>
<path d="M10 383.5H1623" stroke="#f23645" stroke-width="1" stroke-dasharray="1 2" fill="none" shape-rendering="crispEdges"/>
<path d="M11.5 734.8 L18.9 743.3 L26.4 759.3 L33.8 756.7 L41.2 746.5 L48.7 758.6 L56.1 768.8 L63.5 759.9 L71.0 759.6 L78.4 767.0 L85.8 773.3 L93.3 765.2 L100.7 749.4 L108.1 743.6 L115.6 742.6 L123.0 725.6 L130.4 715.6 L137.9 715.3 L145.3 714.5 L152.7 716.3 L160.2 725.3 L167.6 745.1 L175.0 746.1 L182.5 761.0 L189.9 764.1 L197.3 757.2 L204.8 779.4 L212.2 771.3 L219.6 774.9 L227.1 777.7 L234.5 786.5 L241.9 783.7 L249.4 769.9 L256.8 770.9 L264.2 780.8 L271.7 776.3 L279.1 774.5 L286.5 782.7 L294.0 790.8 L301.4 790.1 L308.8 795.7 L316.3 797.4 L323.7 797.9 L331.1 788.9 L338.6 799.7 L346.0 793.3 L353.4 804.0 L360.9 806.8 L368.3 798.1 L375.7 778.7 L383.2 767.0 L390.6 784.7 L398.0 797.1 L405.5 791.8 L412.9 803.5 L420.3 802.1 L427.8 806.8 L435.2 805.4 L442.6 790.3 L450.1 789.6 L457.5 794.3 L464.9 808.9 L472.4 804.7 L479.8 793.9 L487.2 796.0 L494.7 799.6 L502.1 800.0 L509.5 802.1 L517.0 812.0 L524.4 815.6 L531.8 825.2 L539.3 803.5 L546.7 801.1 L554.1 815.3 L561.6 817.0 L569.0 804.2 L576.4 792.5 L583.9 782.0 L591.3 786.1 L598.7 776.2 L606.2 772.8 L613.6 790.8 L621.0 794.0 L628.5 781.1 L635.9 777.3 L643.3 785.4 L650.8 774.0 L658.2 771.2 L665.6 755.3 L673.1 772.8 L680.5 777.0 L687.9 778.0 L695.4 777.6 L702.8 765.5 L710.2 774.5 L717.7 775.5 L725.1 762.8 L732.5 743.0 L740.0 746.1 L747.4 752.5 L754.8 749.7 L762.3 761.3 L769.7 757.0 L777.1 753.9 L784.6 726.0 L792.0 735.9 L799.4 735.6 L806.9 727.7 L814.3 723.7 L821.7 731.2 L829.2 738.6 L836.6 735.8 L844.0 730.5 L851.5 728.4 L858.9 723.9 L866.3 729.1 L873.8 753.5 L881.2 754.9 L888.6 766.0 L896.1 774.0 L903.5 780.8 L910.9 773.0 L918.4 779.1 L925.8 779.1 L933.2 770.9 L940.7 752.5 L948.1 735.5 L955.5 757.0 L963.0 753.2 L970.4 744.7 L977.8 753.9 L985.3 744.3 L992.7 742.9 L1000.1 742.9 L1007.6 738.6 L1015.0 730.5 L1022.4 740.0 L1029.9 746.1 L1037.3 747.2 L1044.7 767.8 L1052.2 772.1 L1059.6 766.4 L1067.0 768.8 L1074.5 765.5 L1081.9 770.9 L1089.3 762.8 L1096.8 761.7 L1104.2 766.7 L1111.7 767.0 L1119.1 785.4 L1126.5 782.7 L1134.0 785.4 L1141.4 778.0 L1148.8 780.1 L1156.3 788.6 L1163.7 779.4 L1171.1 788.4 L1178.6 784.0 L1186.0 789.3 L1193.4 785.1 L1200.9 793.6 L1208.3 774.0 L1215.7 790.5 L1223.2 799.7 L1230.6 795.4 L1238.0 790.8 L1245.5 789.6 L1252.9 786.8 L1260.3 789.6 L1267.8 803.1 L1275.2 796.4 L1282.6 782.5 L1290.1 781.1 L1297.5 780.1 L1304.9 770.2 L1312.4 768.1 L1319.8 767.0 L1327.2 766.7 L1334.7 757.5 L1342.1 760.0 L1349.5 762.4 L1357.0 773.8 L1364.4 762.7 L1371.8 757.0 L1379.3 756.3 L1386.7 742.6 L1394.1 730.8 L1401.6 735.9 L1409.0 740.9 L1416.4 740.7 L1423.9 734.8 L1431.3 762.8 L1438.7 761.0 L1446.2 767.0 L1453.6 769.9 L1461.0 750.6 L1468.5 772.8 L1475.9 786.5 L1483.3 776.9 L1490.8 779.0" stroke="#7e57c2" stroke-width="2" fill="none" stroke-linejoin="round" stroke-linecap="round"/>
<path d="M10 835.5H1623" stroke="#e9ebee" stroke-width="1" fill="none"/>
<path d="M10 700.5H1685" stroke="#e8eaf0" stroke-width="1" fill="none"/>
<rect x="10" y="10" width="1675" height="856" fill="none" stroke="#e8eaf0" stroke-width="1.5"/>
<clipPath id="rc"><rect x="1623" y="701" width="62" height="135"/></clipPath>
<text x="1630.84" y="33" font-family="Liberation Sans, sans-serif" font-size="12" fill="#131722" font-weight="normal" textLength="45.97" lengthAdjust="spacingAndGlyphs">1.13500</text>
<text x="1630.84" y="67" font-family="Liberation Sans, sans-serif" font-size="12" fill="#131722" font-weight="normal" textLength="45.97" lengthAdjust="spacingAndGlyphs">1.13000</text>
<text x="1630.84" y="101" font-family="Liberation Sans, sans-serif" font-size="12" fill="#131722" font-weight="normal" textLength="45.97" lengthAdjust="spacingAndGlyphs">1.12500</text>
<text x="1630.84" y="135" font-family="Liberation Sans, sans-serif" font-size="12" fill="#131722" font-weight="normal" textLength="45.97" lengthAdjust="spacingAndGlyphs">1.12000</text>
<text x="1630.81" y="169" font-family="Liberation Sans, sans-serif" font-size="12" fill="#131722" font-weight="normal" textLength="46.13" lengthAdjust="spacingAndGlyphs">1.11500</text>
<text x="1630.81" y="203" font-family="Liberation Sans, sans-serif" font-size="12" fill="#131722" font-weight="normal" textLength="46.13" lengthAdjust="spacingAndGlyphs">1.11000</text>
<text x="1630.84" y="238" font-family="Liberation Sans, sans-serif" font-size="12" fill="#131722" font-weight="normal" textLength="45.97" lengthAdjust="spacingAndGlyphs">1.10500</text>
<text x="1630.84" y="272" font-family="Liberation Sans, sans-serif" font-size="12" fill="#131722" font-weight="normal" textLength="45.97" lengthAdjust="spacingAndGlyphs">1.10000</text>
<text x="1630.84" y="306" font-family="Liberation Sans, sans-serif" font-size="12" fill="#131722" font-weight="normal" textLength="45.97" lengthAdjust="spacingAndGlyphs">1.09500</text>
<text x="1630.84" y="340" font-family="Liberation Sans, sans-serif" font-size="12" fill="#131722" font-weight="normal" textLength="45.97" lengthAdjust="spacingAndGlyphs">1.09000</text>
<text x="1630.84" y="374" font-family="Liberation Sans, sans-serif" font-size="12" fill="#131722" font-weight="normal" textLength="45.97" lengthAdjust="spacingAndGlyphs">1.08500</text>
<text x="1630.84" y="408" font-family="Liberation Sans, sans-serif" font-size="12" fill="#131722" font-weight="normal" textLength="45.97" lengthAdjust="spacingAndGlyphs">1.08000</text>
<text x="1630.84" y="442" font-family="Liberation Sans, sans-serif" font-size="12" fill="#131722" font-weight="normal" textLength="45.97" lengthAdjust="spacingAndGlyphs">1.07500</text>
<text x="1630.84" y="476" font-family="Liberation Sans, sans-serif" font-size="12" fill="#131722" font-weight="normal" textLength="45.97" lengthAdjust="spacingAndGlyphs">1.07000</text>
<text x="1630.84" y="511" font-family="Liberation Sans, sans-serif" font-size="12" fill="#131722" font-weight="normal" textLength="45.97" lengthAdjust="spacingAndGlyphs">1.06500</text>
<text x="1630.84" y="545" font-family="Liberation Sans, sans-serif" font-size="12" fill="#131722" font-weight="normal" textLength="45.97" lengthAdjust="spacingAndGlyphs">1.06000</text>
<text x="1630.84" y="579" font-family="Liberation Sans, sans-serif" font-size="12" fill="#131722" font-weight="normal" textLength="45.97" lengthAdjust="spacingAndGlyphs">1.05500</text>
<text x="1630.84" y="613" font-family="Liberation Sans, sans-serif" font-size="12" fill="#131722" font-weight="normal" textLength="45.97" lengthAdjust="spacingAndGlyphs">1.05000</text>
<text x="1630.84" y="647" font-family="Liberation Sans, sans-serif" font-size="12" fill="#131722" font-weight="normal" textLength="45.97" lengthAdjust="spacingAndGlyphs">1.04500</text>
<text x="1630.84" y="681" font-family="Liberation Sans, sans-serif" font-size="12" fill="#131722" font-weight="normal" textLength="45.97" lengthAdjust="spacingAndGlyphs">1.04000</text>
<text x="1630.77" y="708.2" font-family="Liberation Sans, sans-serif" font-size="12" fill="#131722" font-weight="normal" textLength="32.90" lengthAdjust="spacingAndGlyphs" clip-path="url(#rc)">80.00</text>
<text x="1630.69" y="752.2" font-family="Liberation Sans, sans-serif" font-size="12" fill="#131722" font-weight="normal" textLength="32.98" lengthAdjust="spacingAndGlyphs" clip-path="url(#rc)">60.00</text>
<text x="1631.08" y="796.2" font-family="Liberation Sans, sans-serif" font-size="12" fill="#131722" font-weight="normal" textLength="32.59" lengthAdjust="spacingAndGlyphs" clip-path="url(#rc)">40.00</text>
<text x="1630.71" y="840.2" font-family="Liberation Sans, sans-serif" font-size="12" fill="#131722" font-weight="normal" textLength="32.96" lengthAdjust="spacingAndGlyphs" clip-path="url(#rc)">20.00</text>
<path d="M1623 271h58a2 2 0 0 1 2 2v15a2 2 0 0 1 -2 2h-58Z" fill="#2a2e39"/>
<text x="1631.53" y="285" font-family="Liberation Sans, sans-serif" font-size="12" fill="#fff" font-weight="normal" textLength="45.39" lengthAdjust="spacingAndGlyphs" stroke="#fff" stroke-width="0.45">1.09811</text>
<path d="M1623 338h58a2 2 0 0 1 2 2v15a2 2 0 0 1 -2 2h-58Z" fill="#ff6d00"/>
<text x="1631.56" y="352" font-family="Liberation Sans, sans-serif" font-size="12" fill="#fff" font-weight="normal" textLength="45.21" lengthAdjust="spacingAndGlyphs" stroke="#fff" stroke-width="0.45">1.08398</text>
<path d="M1623 320h58a2 2 0 0 1 2 2v15a2 2 0 0 1 -2 2h-58Z" fill="#2196f3"/>
<text x="1631.56" y="334" font-family="Liberation Sans, sans-serif" font-size="12" fill="#fff" font-weight="normal" textLength="45.21" lengthAdjust="spacingAndGlyphs" stroke="#fff" stroke-width="0.45">1.08728</text>
<path d="M1623 356h58a2 2 0 0 1 2 2v15a2 2 0 0 1 -2 2h-58Z" fill="#26c6da"/>
<text x="1631.56" y="370" font-family="Liberation Sans, sans-serif" font-size="12" fill="#131722" font-weight="normal" textLength="45.26" lengthAdjust="spacingAndGlyphs" stroke="#131722" stroke-width="0.45">1.08379</text>
<path d="M1623 374h58a2 2 0 0 1 2 2v15a2 2 0 0 1 -2 2h-58Z" fill="#f23645"/>
<text x="1631.56" y="388" font-family="Liberation Sans, sans-serif" font-size="12" fill="#fff" font-weight="normal" textLength="45.26" lengthAdjust="spacingAndGlyphs" stroke="#fff" stroke-width="0.45">1.08306</text>
<path d="M1623 398h58a2 2 0 0 1 2 2v15a2 2 0 0 1 -2 2h-58Z" fill="#2a2e39"/>
<text x="1631.56" y="412" font-family="Liberation Sans, sans-serif" font-size="12" fill="#fff" font-weight="normal" textLength="45.21" lengthAdjust="spacingAndGlyphs" stroke="#fff" stroke-width="0.45">1.07958</text>
<path d="M1623 466h58a2 2 0 0 1 2 2v15a2 2 0 0 1 -2 2h-58Z" fill="#2a2e39"/>
<text x="1631.56" y="480" font-family="Liberation Sans, sans-serif" font-size="12" fill="#fff" font-weight="normal" textLength="45.26" lengthAdjust="spacingAndGlyphs" stroke="#fff" stroke-width="0.45">1.06949</text>
<path d="M1623 770.3h44a2 2 0 0 1 2 2v15a2 2 0 0 1 -2 2h-44Z" fill="#7e57c2"/>
<text x="1631.67" y="784.3" font-family="Liberation Sans, sans-serif" font-size="12" fill="#fff" font-weight="normal" textLength="32.81" lengthAdjust="spacingAndGlyphs" stroke="#fff" stroke-width="0.45">45.49</text>
<text x="61.88" y="856" font-family="Liberation Sans, sans-serif" font-size="12" fill="#131722" font-weight="normal" textLength="17.21" lengthAdjust="spacingAndGlyphs">Jul</text>
<text x="216.27" y="856" font-family="Liberation Sans, sans-serif" font-size="12" fill="#131722" font-weight="normal" textLength="20.98" lengthAdjust="spacingAndGlyphs">Aug</text>
<text x="386.49" y="856" font-family="Liberation Sans, sans-serif" font-size="12" fill="#131722" font-weight="normal" textLength="21.49" lengthAdjust="spacingAndGlyphs">Sep</text>
<text x="543.36" y="856" font-family="Liberation Sans, sans-serif" font-size="12" fill="#131722" font-weight="normal" textLength="19.94" lengthAdjust="spacingAndGlyphs">Oct</text>
<text x="705.43" y="856" font-family="Liberation Sans, sans-serif" font-size="12" fill="#131722" font-weight="normal" textLength="22.73" lengthAdjust="spacingAndGlyphs">Nov</text>
<text x="869.46" y="856" font-family="Liberation Sans, sans-serif" font-size="12" fill="#131722" font-weight="normal" textLength="22.21" lengthAdjust="spacingAndGlyphs">Dec</text>
<text x="1022.03" y="856" font-family="Liberation Sans, sans-serif" font-size="12" fill="#131722" font-weight="bold" textLength="29.09" lengthAdjust="spacingAndGlyphs">2024</text>
<text x="1196.47" y="856" font-family="Liberation Sans, sans-serif" font-size="12" fill="#131722" font-weight="normal" textLength="21.34" lengthAdjust="spacingAndGlyphs">Feb</text>
<text x="1352.48" y="856" font-family="Liberation Sans, sans-serif" font-size="12" fill="#131722" font-weight="normal" textLength="21.16" lengthAdjust="spacingAndGlyphs">Mar</text>
<text x="1510.26" y="856" font-family="Liberation Sans, sans-serif" font-size="12" fill="#131722" font-weight="normal" textLength="18.89" lengthAdjust="spacingAndGlyphs">Apr</text>
<text x="1602.50" y="856" font-family="Liberation Sans, sans-serif" font-size="12" fill="#131722" font-weight="normal" textLength="13.29" lengthAdjust="spacingAndGlyphs">17</text>
<text x="17.82" y="30" font-family="Liberation Sans, sans-serif" font-size="12" fill="#131722" font-weight="normal" textLength="74.27" lengthAdjust="spacingAndGlyphs">EUR/USD, 1D</text>
<text x="98.89" y="30" font-family="Liberation Sans, sans-serif" font-size="12" fill="#131722" font-weight="normal" textLength="9.43" lengthAdjust="spacingAndGlyphs">O</text>
<text x="108.09" y="30" font-family="Liberation Sans, sans-serif" font-size="12" fill="#f23645" font-weight="normal" textLength="43.79" lengthAdjust="spacingAndGlyphs">1.08373</text>
<text x="158.99" y="30" font-family="Liberation Sans, sans-serif" font-size="12" fill="#131722" font-weight="normal" textLength="9.62" lengthAdjust="spacingAndGlyphs">H</text>
<text x="167.89" y="30" font-family="Liberation Sans, sans-serif" font-size="12" fill="#f23645" font-weight="normal" textLength="43.79" lengthAdjust="spacingAndGlyphs">1.08643</text>
<text x="220.00" y="30" font-family="Liberation Sans, sans-serif" font-size="12" fill="#131722" font-weight="normal" textLength="6.71" lengthAdjust="spacingAndGlyphs">L</text>
<text x="226.70" y="30" font-family="Liberation Sans, sans-serif" font-size="12" fill="#f23645" font-weight="normal" textLength="43.37" lengthAdjust="spacingAndGlyphs">1.08243</text>
<text x="278.13" y="30" font-family="Liberation Sans, sans-serif" font-size="12" fill="#131722" font-weight="normal" textLength="7.73" lengthAdjust="spacingAndGlyphs">C</text>
<text x="286.21" y="30" font-family="Liberation Sans, sans-serif" font-size="12" fill="#f23645" font-weight="normal" textLength="43.08" lengthAdjust="spacingAndGlyphs">1.08306</text>
<text x="336.73" y="30" font-family="Liberation Sans, sans-serif" font-size="12" fill="#f23645" font-weight="normal" textLength="50.86" lengthAdjust="spacingAndGlyphs">−0.00067</text>
<text x="392.84" y="30" font-family="Liberation Sans, sans-serif" font-size="12" fill="#f23645" font-weight="normal" textLength="47.05" lengthAdjust="spacingAndGlyphs">(−0.06%)</text>
<text x="16.76" y="47.7" font-family="Liberation Sans, sans-serif" font-size="12" fill="#131722" font-weight="normal" textLength="40.11" lengthAdjust="spacingAndGlyphs">Moving</text>
<text x="60.76" y="47.7" font-family="Liberation Sans, sans-serif" font-size="12" fill="#131722" font-weight="normal" textLength="44.09" lengthAdjust="spacingAndGlyphs">Average</text>
<text x="109.10" y="47.7" font-family="Liberation Sans, sans-serif" font-size="12" fill="#131722" font-weight="normal" textLength="31.81" lengthAdjust="spacingAndGlyphs">Triple</text>
<text x="145.19" y="47.7" font-family="Liberation Sans, sans-serif" font-size="12" fill="#131722" font-weight="normal" textLength="21.36" lengthAdjust="spacingAndGlyphs">(50,</text>
<text x="170.42" y="47.7" font-family="Liberation Sans, sans-serif" font-size="12" fill="#131722" font-weight="normal" textLength="22.98" lengthAdjust="spacingAndGlyphs">100,</text>
<text x="198.86" y="47.7" font-family="Liberation Sans, sans-serif" font-size="12" fill="#131722" font-weight="normal" textLength="23.99" lengthAdjust="spacingAndGlyphs">200,</text>
<text x="226.64" y="47.7" font-family="Liberation Sans, sans-serif" font-size="12" fill="#131722" font-weight="normal" textLength="42.94" lengthAdjust="spacingAndGlyphs">Simple)</text>
<text x="277.99" y="47.7" font-family="Liberation Sans, sans-serif" font-size="12" fill="#ff6d00" font-weight="normal" textLength="43.66" lengthAdjust="spacingAndGlyphs">1.08398</text>
<text x="329.59" y="47.7" font-family="Liberation Sans, sans-serif" font-size="12" fill="#2196f3" font-weight="normal" textLength="43.76" lengthAdjust="spacingAndGlyphs">1.08728</text>
<text x="381.28" y="47.7" font-family="Liberation Sans, sans-serif" font-size="12" fill="#26c6da" font-weight="normal" textLength="44.22" lengthAdjust="spacingAndGlyphs">1.08379</text>
<text x="17.83" y="720.6" font-family="Liberation Sans, sans-serif" font-size="12" fill="#131722" font-weight="normal" textLength="17.48" lengthAdjust="spacingAndGlyphs">RSI</text>
<text x="39.29" y="720.6" font-family="Liberation Sans, sans-serif" font-size="12" fill="#131722" font-weight="normal" textLength="21.82" lengthAdjust="spacingAndGlyphs">(14)</text>
<text x="68.68" y="720.6" font-family="Liberation Sans, sans-serif" font-size="12" fill="#7e57c2" font-weight="normal" textLength="31.77" lengthAdjust="spacingAndGlyphs">45.49</text>
<text x="33.98" y="889.5" font-family="Liberation Sans, sans-serif" font-size="13" fill="#1e222d" font-weight="normal" textLength="74.05" lengthAdjust="spacingAndGlyphs">TradingView</text>
<g fill="#131722"><path d="M10 879.2H18V889.3H14.2V883H10Z"/><circle cx="21.2" cy="881.5" r="2.05"/><path d="M25.1 879.2H30.4L27.3 889.3H21.9Z"/></g>
</svg>
</body></html>
